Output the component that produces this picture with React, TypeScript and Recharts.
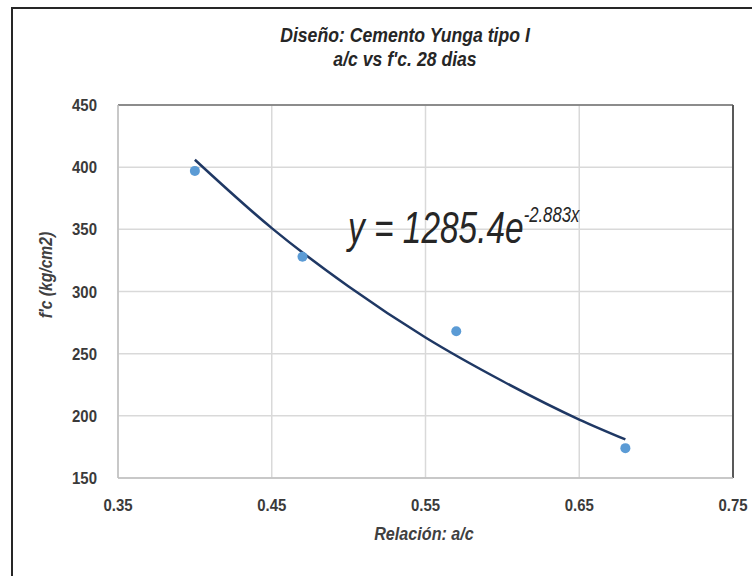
import {
  CartesianGrid,
  ComposedChart,
  Line,
  ReferenceLine,
  Scatter,
  XAxis,
  YAxis,
} from 'recharts'

// ensayos a/c vs f'c a 28 dias
const ratios = [0.4, 0.47, 0.57, 0.68]
const strengths = [397, 328, 268, 174]

// curva de tendencia
const trendRatios = [0.4, 0.45, 0.5, 0.55, 0.6, 0.65, 0.68]
const trendStrengths = [406, 351, 304, 263, 228, 197, 181]

const xTicks = [0.35, 0.45, 0.55, 0.65, 0.75]
const yTicks = [150, 200, 250, 300, 350, 400, 450]

const titleLines = ['Diseño: Cemento Yunga tipo I', "a/c vs f'c. 28 dias"]
const xLabel = 'Relación: a/c'
const yLabel = "f'c (kg/cm2)"
const equation = { coef: '1285.4', exp: '-2.883x' }

const points = ratios.map((x, i) => ({ x, y: strengths[i] }))
const trend = trendRatios.map((x, i) => ({ x, y: trendStrengths[i] }))

const FONT = '"Liberation Sans", Arial, sans-serif'
const SX = 0.76

const YTick = (props: any) => {
  const { x, y, payload } = props
  return (
    <text
      transform={`translate(${x},${y + 6}) scale(0.88,1)`}
      textAnchor="end"
      fontFamily={FONT}
      fontSize={17}
      fontWeight="bold"
      fill="#3A3A3A"
    >
      {payload.value}
    </text>
  )
}

const XTick = (props: any) => {
  const { x, y, payload } = props
  return (
    <text
      transform={`translate(${x},${y + 31}) scale(0.88,1)`}
      textAnchor="middle"
      fontFamily={FONT}
      fontSize={17}
      fontWeight="bold"
      fill="#3A3A3A"
    >
      {payload.value.toFixed(2)}
    </text>
  )
}

const Dot = (props: any) => (
  <circle cx={props.cx} cy={props.cy} r={5} fill="#5B9BD5" />
)

export default function App() {
  return (
    <div
      style={{
        position: 'absolute',
        left: 0,
        top: 0,
        width: 752,
        height: 576,
        overflow: 'hidden',
        background: '#fff',
      }}
    >
      <div
        style={{
          position: 'absolute',
          left: 11,
          top: 7,
          width: 800,
          height: 620,
          border: '2px solid #262626',
        }}
      />
      <div style={{ position: 'absolute', left: 0, top: 0 }}>
        <ComposedChart
          width={752}
          height={576}
          margin={{ top: 105, right: 19, bottom: 58, left: 58 }}
        >
          <CartesianGrid stroke="#D9D9D9" strokeWidth={1.5} />
          <XAxis
            dataKey="x"
            type="number"
            domain={[0.35, 0.75]}
            ticks={xTicks}
            height={40}
            tickLine={false}
            tickSize={0}
            axisLine={{ stroke: '#BFBFBF', strokeWidth: 1.5 }}
            tick={<XTick />}
            interval={0}
          />
          <YAxis
            type="number"
            domain={[150, 450]}
            ticks={yTicks}
            width={60}
            tickLine={false}
            tickSize={0}
            tickMargin={21}
            axisLine={{ stroke: '#BFBFBF', strokeWidth: 1.5 }}
            tick={<YTick />}
            interval={0}
          />
          <ReferenceLine y={450} stroke="#6F6F6F" strokeWidth={1.5} />
          <ReferenceLine x={0.75} stroke="#595959" strokeWidth={2} />
          <Line
            data={trend}
            dataKey="y"
            type="monotone"
            stroke="#1F3864"
            strokeWidth={2.5}
            dot={false}
            activeDot={false}
            isAnimationActive={false}
          />
          <Scatter
            data={points}
            dataKey="y"
            shape={<Dot />}
            isAnimationActive={false}
          />
          {titleLines.map((t, i) => (
            <text
              key={t}
              transform={`translate(405,${42 + i * 24}) scale(0.84,1)`}
              textAnchor="middle"
              fontFamily={FONT}
              fontSize={21}
              fontWeight="bold"
              fontStyle="italic"
              fill="#262626"
            >
              {t}
            </text>
          ))}
          <text
            transform="translate(424,540) scale(0.85,1)"
            textAnchor="middle"
            fontFamily={FONT}
            fontSize={19}
            fontWeight="bold"
            fontStyle="italic"
            fill="#404040"
          >
            {xLabel}
          </text>
          <text
            transform="translate(52,275) rotate(-90) scale(0.87,1)"
            textAnchor="middle"
            fontFamily={FONT}
            fontSize={18}
            fontWeight="bold"
            fontStyle="italic"
            fill="#404040"
          >
            {yLabel}
          </text>
          <text
            transform={`translate(348,243) scale(${SX},1)`}
            fontFamily={FONT}
            fontStyle="italic"
            fill="#262626"
          >
            <tspan fontSize={44}>{`y = ${equation.coef}e`}</tspan>
            <tspan fontSize={22} dy={-21}>
              {equation.exp}
            </tspan>
          </text>
        </ComposedChart>
      </div>
    </div>
  )
}
